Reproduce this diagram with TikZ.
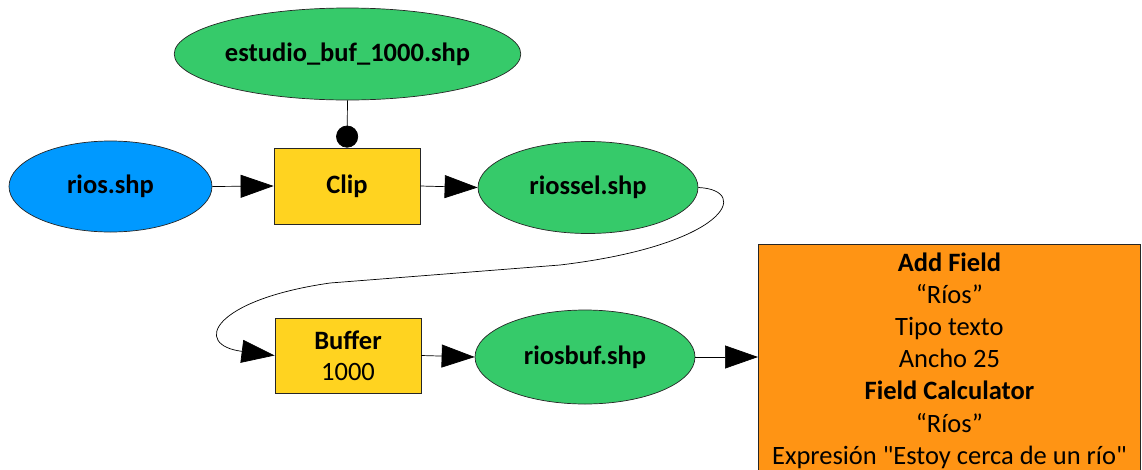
\documentclass[tikz,border=0pt]{standalone}
\usepackage{fontspec}
\setmainfont{Carlito}
\newfontfamily\plainfont{Carlito}
\usetikzlibrary{arrows.meta,shapes.geometric}
\definecolor{dgreen}{RGB}{54,202,106}
\definecolor{dblue}{RGB}{0,153,255}
\definecolor{dyellow}{RGB}{255,211,32}
\definecolor{dorange}{RGB}{255,148,20}
\tikzset{
  lbl/.style={font=\fontsize{26.5}{32}\selectfont, inner sep=0pt},
  dataell/.style={ellipse, draw=black!85, line width=0.7pt, lbl, font=\fontsize{26.5}{32}\selectfont\bfseries},
  toolbox/.style={rectangle, draw=black!85, line width=0.8pt, fill=dyellow, lbl, align=center},
  conn/.style={draw=black, line width=0.7pt, -{Triangle[length=33pt,width=23pt]}},
  dotconn/.style={draw=black, line width=0.7pt, -{Circle[length=22pt]}}
}
\begin{document}
\begin{tikzpicture}[x=1pt,y=-1pt]
\useasboundingbox (0,0) rectangle (1142,469);
\clip (0,0) rectangle (1142,469);
\node[dataell, fill=dgreen, minimum width=258pt, minimum height=92pt] (est) at (347.5,54) {estudio\_buf\_1000.shp};
\node[dataell, fill=dblue, minimum width=203pt, minimum height=91pt] (rios) at (110.5,186.5) {rios.shp};
\node[toolbox, minimum width=146pt, minimum height=76pt, font=\fontsize{26.5}{32}\selectfont\bfseries] (clip) at (347,186) {Clip};
\node[dataell, fill=dgreen, minimum width=220pt, minimum height=92pt] (riossel) at (588,187.5) {riossel.shp};
\node[toolbox, minimum width=146pt, minimum height=75pt, font=\fontsize{26.5}{31}\selectfont] (buffer) at (348,355.5) {\textbf{Buffer}\\1000};
\node[dataell, fill=dgreen, minimum width=220pt, minimum height=94pt] (riosbuf) at (585,357) {riosbuf.shp};
\node[rectangle, draw=black!85, line width=0.8pt, fill=dorange, align=center, anchor=north west, minimum width=382pt, inner xsep=12pt, inner ysep=8pt, font=\fontsize{26.5}{32.2}\selectfont] (addf) at (758,244) {%
\textbf{Add Field}\\“Ríos”\\Tipo texto\\Ancho 25\\\textbf{Field Calculator}\\“Ríos”\\{\plainfont Expresión "Estoy cerca de un río"}};
\coordinate (k1) at (560,265);
\coordinate (k2) at (330,283);
\path[conn] (rios.east) -- (clip.west);
\path[dotconn] (est.south) -- (clip.north);
\path[conn] (clip.east) -- (riossel.west);
\path[conn] (riossel.east) .. controls (752,190) and (727,245) .. (k1) -- (k2) .. controls (212,300) and (192,345) .. (buffer.west);
\path[conn] (buffer.east) -- (riosbuf.west);
\path[conn] (riosbuf.east) -- (riosbuf.east -| addf.west);
\end{tikzpicture}
\end{document}
